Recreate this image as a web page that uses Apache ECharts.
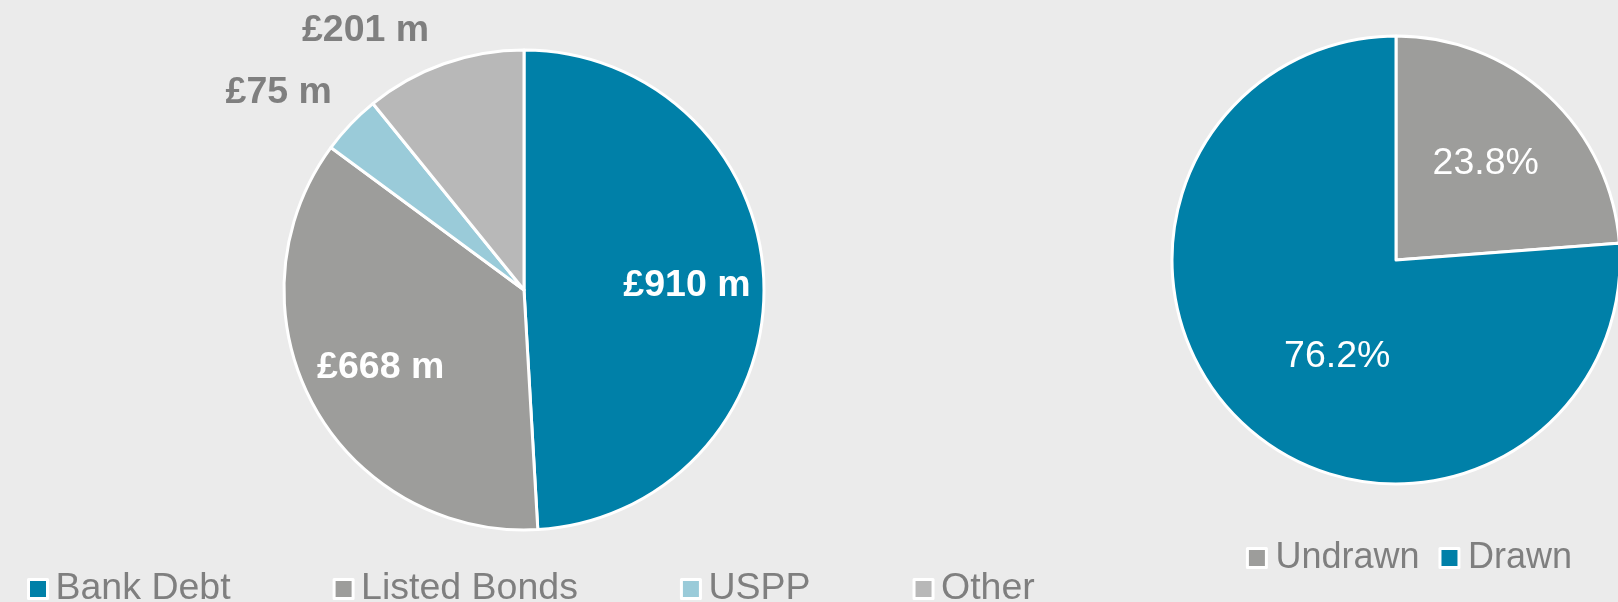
<!DOCTYPE html>
<html>
<head>
<meta charset="utf-8">
<script src="https://cdn.jsdelivr.net/npm/echarts@6/dist/echarts.min.js"></script>
<style>
  html, body { margin: 0; padding: 0; background: #ebebeb; }
  #debt { width: 1618px; height: 602px; }
</style>
</head>
<body>
<div id="debt"></div>
<script>
  // debt mix (£ m)
  var debtNames = ['Bank Debt', 'Listed Bonds', 'USPP', 'Other']
  var debtValues = [910, 668, 75, 201]
  var debtColors = ['#0080a8', '#9d9d9b', '#9acbd9', '#b8b8b8']

  // facility usage (%)
  var facilityNames = ['Undrawn', 'Drawn']
  var facilityValues = [23.8, 76.2]
  var facilityColors = ['#9d9d9b', '#0080a8']

  var font = '"Liberation Sans", Arial, sans-serif'
  var fontSize = 37.5
  var grey = '#7f7f7f'

  // the two small slices keep their labels outside the pie
  var outsideLabel = {
    USPP: { len: 45, dist: -14 },
    Other: { len: 35, dist: 3 }
  }

  var debtData = debtNames.map(function (n, i) {
    var item = { name: n, value: debtValues[i], itemStyle: { color: debtColors[i] } }
    if (outsideLabel[n]) {
      item.label = { show: true, distanceToLabelLine: outsideLabel[n].dist }
      item.labelLine = { show: false, length: outsideLabel[n].len, length2: 0 }
    } else {
      item.label = { show: false }
    }
    return item
  })
  // label carrier for the big slices (ring, so the inside label sits at 2/3 radius)
  var debtInner = debtNames.map(function (n, i) {
    return { name: n, value: debtValues[i], label: { show: !outsideLabel[n] } }
  })

  var facilityData = facilityNames.map(function (n, i) {
    return { name: n, value: facilityValues[i], itemStyle: { color: facilityColors[i] } }
  })
  var facilityInner = facilityNames.map(function (n, i) {
    var item = { name: n, value: facilityValues[i] }
    // Drawn label sits a bit right of the slice middle
    if (n === 'Drawn') item.label = { padding: [0, 0, 8, 62] }
    return item
  })

  var chart = echarts.init(document.getElementById('debt'))

  chart.setOption({
    backgroundColor: '#ebebeb',
    animation: false,
    legend: [{
      data: debtNames,
      left: 27,
      top: 570,
      padding: 0,
      icon: 'rect',
      itemWidth: 19,
      itemHeight: 19,
      itemGap: 102,
      itemStyle: { borderColor: '#fff', borderWidth: 3 },
      textStyle: { fontFamily: font, fontSize: fontSize, color: grey, padding: [0, 0, 0, 3] }
    }, {
      data: facilityNames,
      right: 46,
      top: 540,
      padding: 0,
      icon: 'rect',
      itemWidth: 19,
      itemHeight: 19,
      itemGap: 19,
      itemStyle: { borderColor: '#fff', borderWidth: 3 },
      textStyle: { fontFamily: font, fontSize: 36, color: grey, padding: [0, 0, 0, 4] }
    }],
    series: [
      {
        name: 'Debt',
        type: 'pie',
        center: [524, 290],
        radius: [0, 240],
        startAngle: 90,
        avoidLabelOverlap: false,
        itemStyle: { borderColor: '#fff', borderWidth: 3 },
        label: {
          position: 'outside',
          formatter: '£{c} m',
          fontFamily: font,
          fontSize: fontSize,
          fontWeight: 'bold',
          color: grey
        },
        emphasis: { disabled: true },
        data: debtData
      },
      {
        name: 'Debt labels',
        type: 'pie',
        center: [524, 290],
        radius: [80, 240],
        startAngle: 90,
        silent: true,
        legendHoverLink: false,
        itemStyle: { color: 'rgba(0,0,0,0)', borderWidth: 0 },
        label: {
          position: 'inside',
          formatter: '£{c} m',
          fontFamily: font,
          fontSize: fontSize,
          fontWeight: 'bold',
          color: '#fff'
        },
        labelLine: { show: false },
        emphasis: { disabled: true },
        data: debtInner
      },
      {
        name: 'Facility',
        type: 'pie',
        center: [1396, 260],
        radius: [0, 224],
        startAngle: 90,
        itemStyle: { borderColor: '#fff', borderWidth: 3 },
        label: { show: false },
        emphasis: { disabled: true },
        data: facilityData
      },
      {
        name: 'Facility labels',
        type: 'pie',
        center: [1396, 260],
        radius: [34, 224],
        startAngle: 90,
        silent: true,
        legendHoverLink: false,
        itemStyle: { color: 'rgba(0,0,0,0)', borderWidth: 0 },
        label: {
          position: 'inside',
          formatter: '{c}%',
          fontFamily: font,
          fontSize: fontSize,
          color: '#fff'
        },
        labelLine: { show: false },
        emphasis: { disabled: true },
        data: facilityInner
      }
    ]
  })
</script>
</body>
</html>
